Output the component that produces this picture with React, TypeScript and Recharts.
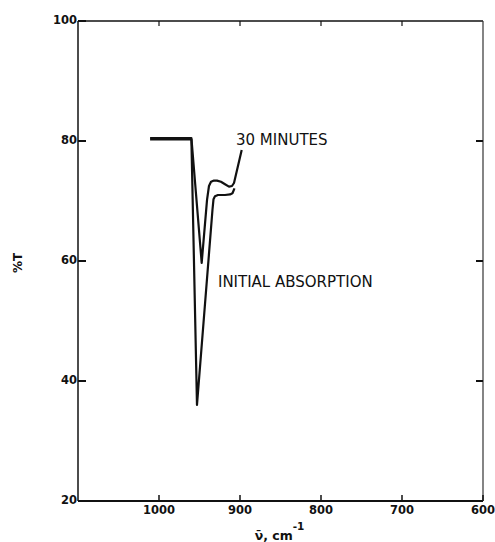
import React from "react";
import { LineChart, Line, XAxis, YAxis, ReferenceDot } from "recharts";

// Initial absorption spectrum (wavenumber, %T)
const initialWn = [1011, 960, 953.1, 934.0, 932.7, 930.9, 927.2, 918.5, 912.3, 909.3, 906.8];
const initialT = [80.25, 80.25, 36.0, 68.5, 70.3, 70.8, 71.0, 71.0, 71.1, 71.3, 72.1];

// After 30 minutes
const min30Wn = [1011, 960, 947.3, 940.7, 938.3, 935.8, 932.1, 928.4, 923.5, 918.5, 913.6, 909.9, 907.4, 897.9];
const min30T = [80.5, 80.5, 59.7, 70.2, 72.5, 73.2, 73.4, 73.4, 73.2, 72.8, 72.4, 72.5, 73.0, 78.5];

const xTicks = [1000, 900, 800, 700, 600];
const xTopTicks = [1000, 900, 800, 700];
const yTicks = [20, 40, 60, 80, 100];

const annotationText = ["30 MINUTES", "INITIAL ABSORPTION"];
const annotationWn = [904.9, 927.2];
const annotationT = [79.3, 55.7];

const initialData = initialWn.map((wn, i) => ({ wn, t: initialT[i] }));
const min30Data = min30Wn.map((wn, i) => ({ wn, t: min30T[i] }));

const FONT = "'DejaVu Sans', sans-serif";
const INK = "#111";

const BottomTick = (props: any) => {
  const { x, y, payload } = props;
  return (
    <g>
      <line x1={x} y1={y} x2={x} y2={y - 6} stroke={INK} strokeWidth={1.5} />
      <text x={x} y={y + 13} textAnchor="middle" fontFamily={FONT} fontSize={11.5} fontWeight="bold" fill={INK}>
        {payload.value}
      </text>
    </g>
  );
};

const TopTick = (props: any) => {
  const { x, y } = props;
  return <line x1={x} y1={y} x2={x} y2={y + 5} stroke={INK} strokeWidth={1.2} />;
};

const LeftTick = (props: any) => {
  const { x, y, payload } = props;
  return (
    <g>
      <line x1={x} y1={y} x2={x + 8} y2={y} stroke={INK} strokeWidth={2} />
      <text x={x - 1} y={y + 3} textAnchor="end" fontFamily={FONT} fontSize={11.5} fontWeight="bold" fill={INK}>
        {payload.value}
      </text>
    </g>
  );
};

const RightTick = (props: any) => {
  const { x, y } = props;
  return <line x1={x} y1={y} x2={x - 7} y2={y} stroke={INK} strokeWidth={2} />;
};

const XTitle = (props: any) => {
  const vb = props.viewBox || { x: 0, y: 0, width: 0, height: 0 };
  const cx = vb.x + vb.width / 2;
  return (
    <text x={cx - 1} y={vb.y + 39} textAnchor="middle" fontFamily={FONT} fontSize={12.5} fontWeight="bold" fill={INK}>
      {"\u03BD\u0304, cm"}
      <tspan fontSize={10.5} dy={-10}>{"-1"}</tspan>
    </text>
  );
};

const YTitle = (props: any) => {
  const vb = props.viewBox || { x: 0, y: 0, width: 0, height: 0 };
  const x = 22;
  const y = vb.y + vb.height / 2 + 2;
  return (
    <text x={x} y={y} textAnchor="middle" fontFamily={FONT} fontSize={12} fontWeight="bold" fill={INK} transform={`rotate(-90, ${x}, ${y})`}>
      %T
    </text>
  );
};

const AnnLabel = (props: any) => {
  const vb = props.viewBox || { x: 0, y: 0 };
  return (
    <text x={vb.x} y={vb.y} fontFamily={FONT} fontSize={15} fill={INK}>
      {props.text}
    </text>
  );
};

export default function App() {
  return (
    <div style={{ position: "absolute", left: 0, top: 0, background: "#fff" }}>
      <LineChart width={495} height={542} margin={{ top: 11, right: 2, bottom: 11, left: 38 }}>
        <XAxis
          xAxisId="b"
          dataKey="wn"
          type="number"
          domain={[600, 1100]}
          reversed
          ticks={xTicks}
          interval={0}
          height={30}
          tickSize={0}
          tickMargin={0}
          tickLine={false}
          axisLine={{ stroke: INK, strokeWidth: 2 }}
          tick={<BottomTick />}
          allowDataOverflow
          label={<XTitle />}
        />
        <XAxis
          xAxisId="t"
          orientation="top"
          dataKey="wn"
          type="number"
          domain={[600, 1100]}
          reversed
          ticks={xTopTicks}
          interval={0}
          height={10}
          tickSize={0}
          tickMargin={0}
          tickLine={false}
          axisLine={{ stroke: INK, strokeWidth: 1.5 }}
          tick={<TopTick />}
          allowDataOverflow
        />
        <YAxis
          yAxisId="l"
          type="number"
          domain={[20, 100]}
          ticks={yTicks}
          interval={0}
          width={40}
          tickSize={0}
          tickMargin={0}
          tickLine={false}
          axisLine={{ stroke: INK, strokeWidth: 1.5 }}
          tick={<LeftTick />}
          allowDataOverflow
          label={<YTitle />}
        />
        <YAxis
          yAxisId="r"
          orientation="right"
          type="number"
          domain={[20, 100]}
          ticks={[40, 60, 80]}
          interval={0}
          width={10}
          tickSize={0}
          tickMargin={0}
          tickLine={false}
          axisLine={{ stroke: "#333", strokeWidth: 1.2 }}
          tick={<RightTick />}
          allowDataOverflow
        />
        <Line
          xAxisId="b"
          yAxisId="l"
          data={initialData}
          dataKey="t"
          type="linear"
          stroke={INK}
          strokeWidth={2.2}
          dot={false}
          activeDot={false}
          isAnimationActive={false}
          strokeLinejoin="round"
        />
        <Line
          xAxisId="b"
          yAxisId="l"
          data={min30Data}
          dataKey="t"
          type="linear"
          stroke={INK}
          strokeWidth={2.2}
          dot={false}
          activeDot={false}
          isAnimationActive={false}
          strokeLinejoin="round"
        />
        {annotationText.map((txt, i) => (
          <ReferenceDot
            key={txt}
            xAxisId="b"
            yAxisId="l"
            x={annotationWn[i]}
            y={annotationT[i]}
            r={0}
            fill="none"
            stroke="none"
            label={<AnnLabel text={txt} />}
          />
        ))}
      </LineChart>
    </div>
  );
}
